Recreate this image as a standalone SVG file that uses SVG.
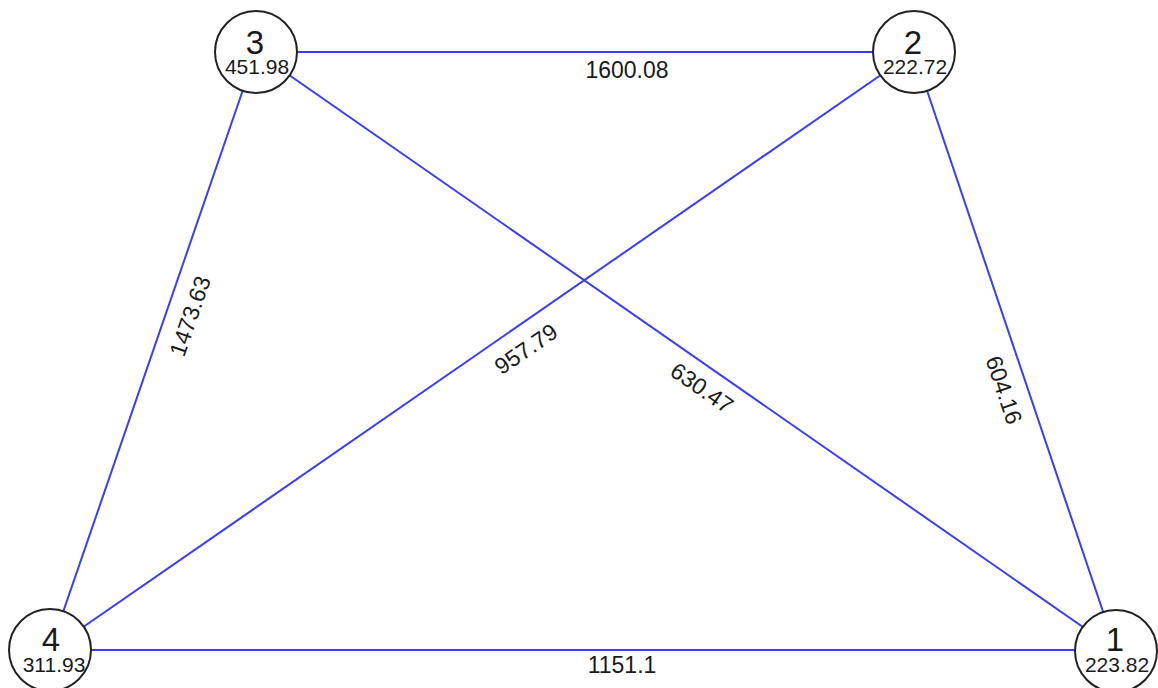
<svg xmlns="http://www.w3.org/2000/svg" width="1158" height="688" viewBox="0 0 1158 688">
<style>
.e{stroke:#3c3cf6;stroke-width:2;fill:none}
.n{fill:#ffffff;stroke:#222222;stroke-width:2}
.t{font-family:"Liberation Sans",Arial,sans-serif;fill:#1a1a1a;text-anchor:middle}
.id{font-size:33px}
.v{font-size:21px}
.el{font-size:23px;dominant-baseline:central}
</style>
<rect width="1158" height="688" fill="#ffffff"/>
<g id="connectors">
<line class="e" x1="256" y1="52" x2="914" y2="52"/>
<line class="e" x1="256" y1="52" x2="50" y2="650"/>
<line class="e" x1="256" y1="52" x2="1116" y2="650"/>
<line class="e" x1="914" y1="52" x2="50" y2="650"/>
<line class="e" x1="914" y1="52" x2="1116" y2="650"/>
<line class="e" x1="50" y1="650" x2="1116" y2="650"/>
<text class="t el" x="627" y="70">1600.08</text>
<text class="t el" x="622" y="665">1151.1</text>
<text class="t el" transform="translate(190,316) rotate(-71)">1473.63</text>
<text class="t el" transform="translate(526,349) rotate(-34.6)">957.79</text>
<text class="t el" transform="translate(702,388) rotate(34.8)">630.47</text>
<text class="t el" transform="translate(1004,390) rotate(71.3)">604.16</text>
</g>
<g id="node3">
<circle class="n" cx="256" cy="52" r="41"/>
<text class="t id" x="255" y="54">3</text>
<text class="t v" x="257" y="74">451.98</text>
</g>
<g id="node2">
<circle class="n" cx="914" cy="52" r="41"/>
<text class="t id" x="913" y="54">2</text>
<text class="t v" x="915" y="74">222.72</text>
</g>
<g id="node4">
<circle class="n" cx="50" cy="650" r="41"/>
<text class="t id" x="51" y="651">4</text>
<text class="t v" x="54" y="672">311.93</text>
</g>
<g id="node1">
<circle class="n" cx="1116" cy="651" r="41"/>
<text class="t id" x="1115" y="651">1</text>
<text class="t v" x="1117" y="672">223.82</text>
</g>
</svg>
